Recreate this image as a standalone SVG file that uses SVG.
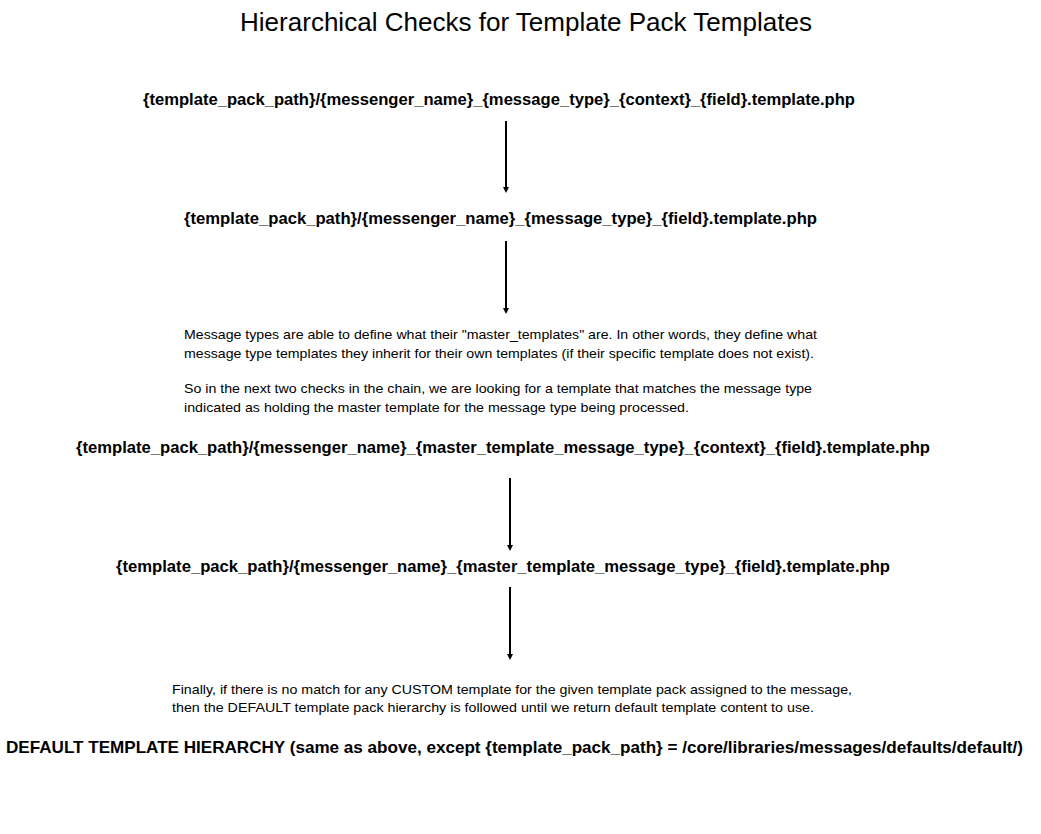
<svg xmlns="http://www.w3.org/2000/svg" width="1041" height="834" viewBox="0 0 1041 834">
<style>
text{font-family:"Liberation Sans",Arial,sans-serif;fill:#000}
.title{font-size:25.5px}
.node{font-size:16.5px;font-weight:bold}
.note{font-size:13.5px}
.conn{stroke:#000;stroke-width:2;fill:none;marker-end:url(#ah)}
</style>
<defs>
<marker id="ah" markerWidth="6" markerHeight="6" refX="3" refY="3" orient="auto" markerUnits="userSpaceOnUse">
<path d="M0,0 L6,3 L0,6 Z" fill="#000"/>
</marker>
</defs>
<rect width="1041" height="834" fill="#fff"/>
<text class="title" x="240" y="31" textLength="572" lengthAdjust="spacingAndGlyphs">Hierarchical Checks for Template Pack Templates</text>
<g id="n1"><text class="node" x="143" y="105" textLength="712" lengthAdjust="spacingAndGlyphs">{template_pack_path}/{messenger_name}_{message_type}_{context}_{field}.template.php</text></g>
<g id="n2"><text class="node" x="184" y="224" textLength="633" lengthAdjust="spacingAndGlyphs">{template_pack_path}/{messenger_name}_{message_type}_{field}.template.php</text></g>
<g id="note1">
<text class="note" x="184" y="339" textLength="633" lengthAdjust="spacingAndGlyphs">Message types are able to define what their "master_templates" are. In other words, they define what</text>
<text class="note" x="184" y="358" textLength="630" lengthAdjust="spacingAndGlyphs">message type templates they inherit for their own templates (if their specific template does not exist).</text>
<text class="note" x="184" y="393" textLength="628" lengthAdjust="spacingAndGlyphs">So in the next two checks in the chain, we are looking for a template that matches the message type</text>
<text class="note" x="184" y="412" textLength="505" lengthAdjust="spacingAndGlyphs">indicated as holding the master template for the message type being processed.</text>
</g>
<g id="n3"><text class="node" x="76" y="453" textLength="854" lengthAdjust="spacingAndGlyphs">{template_pack_path}/{messenger_name}_{master_template_message_type}_{context}_{field}.template.php</text></g>
<g id="n4"><text class="node" x="116" y="572" textLength="774" lengthAdjust="spacingAndGlyphs">{template_pack_path}/{messenger_name}_{master_template_message_type}_{field}.template.php</text></g>
<g id="note2">
<text class="note" x="172" y="694" textLength="680" lengthAdjust="spacingAndGlyphs">Finally, if there is no match for any CUSTOM template for the given template pack assigned to the message,</text>
<text class="note" x="172" y="712" textLength="642" lengthAdjust="spacingAndGlyphs">then the DEFAULT template pack hierarchy is followed until we return default template content to use.</text>
</g>
<g id="n5"><text class="node" x="6" y="753" textLength="1017" lengthAdjust="spacingAndGlyphs">DEFAULT TEMPLATE HIERARCHY (same as above, except {template_pack_path} = /core/libraries/messages/defaults/default/)</text></g>
<g id="connectors">
<line class="conn" x1="506" y1="121" x2="506" y2="190"/>
<line class="conn" x1="506" y1="241" x2="506" y2="311"/>
<line class="conn" x1="510" y1="478" x2="510" y2="548"/>
<line class="conn" x1="510" y1="587" x2="510" y2="657"/>
</g>
</svg>
